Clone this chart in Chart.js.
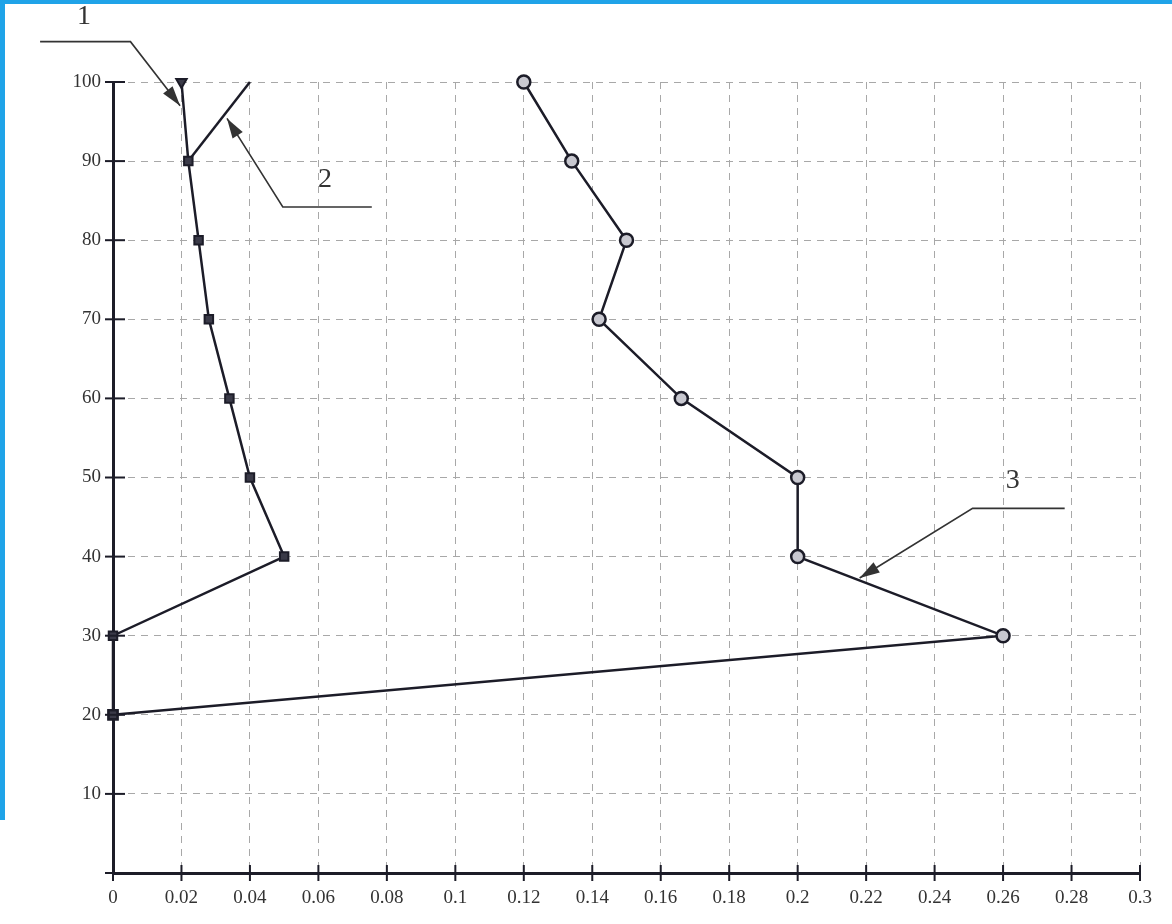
<!DOCTYPE html>
<html>
<head>
<meta charset="utf-8">
<script src="https://cdn.jsdelivr.net/npm/chart.js@4/dist/chart.umd.min.js"></script>
<style>
  html, body { margin: 0; padding: 0; background: #fff; }
  #wrap { position: relative; width: 1172px; height: 924px; }
  #topBar { position: absolute; left: 0; top: 0; width: 1172px; height: 4px; background: #1fa3e8; }
  #leftBar { position: absolute; left: 0; top: 0; width: 5px; height: 820px; background: #1fa3e8; }
</style>
</head>
<body>
<div id="wrap">
  <canvas id="chart" width="1172" height="924"></canvas>
  <div id="topBar"></div>
  <div id="leftBar"></div>
</div>
<script>
// depth levels (y axis)
const depths1 = [100, 90, 80, 70, 60, 50, 40, 30, 20];
const values1 = [0.02, 0.022, 0.025, 0.028, 0.034, 0.04, 0.05, 0, 0];

const depths2 = [100, 90];
const values2 = [0.04, 0.022];

const depths3 = [100, 90, 80, 70, 60, 50, 40, 30, 20];
const values3 = [0.12, 0.134, 0.15, 0.142, 0.166, 0.2, 0.2, 0.26, 0];

const xTickLabels = ['0', '0.02', '0.04', '0.06', '0.08', '0.1', '0.12', '0.14', '0.16',
                     '0.18', '0.2', '0.22', '0.24', '0.26', '0.28', '0.3'];
const yTickLabels = ['', '10', '20', '30', '40', '50', '60', '70', '80', '90', '100'];

// curve labels with leader lines: text pos, leader start, leader bend, arrow tip (data units)
const callouts = [
    { text: '1', tx: -0.0085, ty: 108.3, x0: -0.0213, y0: 105.1, x1: 0.0051, y1: 105.1, x2: 0.0196, y2: 97.0 },
    { text: '2', tx: 0.0619, ty: 87.6, x0: 0.0756, y0: 84.2, x1: 0.0496, y1: 84.2, x2: 0.0333, y2: 95.4 },
    { text: '3', tx: 0.2628, ty: 49.6, x0: 0.2780, y0: 46.1, x1: 0.2511, y1: 46.1, x2: 0.2181, y2: 37.3 }
];

const ink = '#1c1c28';

function toPoints(xs, ys) {
    return xs.map((v, i) => ({ x: v, y: ys[i] }));
}

const calloutPlugin = {
    id: 'callouts',
    afterDraw(chart) {
        const ctx = chart.ctx;
        const xs = chart.scales.x;
        const ys = chart.scales.y;
        ctx.save();
        ctx.strokeStyle = '#333';
        ctx.fillStyle = '#333';
        ctx.lineWidth = 1.6;
        callouts.forEach(c => {
            const p0 = [xs.getPixelForValue(c.x0), ys.getPixelForValue(c.y0)];
            const p1 = [xs.getPixelForValue(c.x1), ys.getPixelForValue(c.y1)];
            const p2 = [xs.getPixelForValue(c.x2), ys.getPixelForValue(c.y2)];
            ctx.beginPath();
            ctx.moveTo(p0[0], p0[1]);
            ctx.lineTo(p1[0], p1[1]);
            ctx.lineTo(p2[0], p2[1]);
            ctx.stroke();
            // arrow head
            const ang = Math.atan2(p2[1] - p1[1], p2[0] - p1[0]);
            const len = 20, half = 6;
            ctx.beginPath();
            ctx.moveTo(p2[0], p2[1]);
            ctx.lineTo(p2[0] - len * Math.cos(ang) + half * Math.sin(ang),
                       p2[1] - len * Math.sin(ang) - half * Math.cos(ang));
            ctx.lineTo(p2[0] - len * Math.cos(ang) - half * Math.sin(ang),
                       p2[1] - len * Math.sin(ang) + half * Math.cos(ang));
            ctx.closePath();
            ctx.fill();
            ctx.font = '28px "Liberation Serif", serif';
            ctx.textAlign = 'center';
            ctx.textBaseline = 'middle';
            ctx.fillText(c.text, xs.getPixelForValue(c.tx), ys.getPixelForValue(c.ty));
        });
        ctx.restore();
    }
};

// small tick marks that cross the axis lines
const crossTicks = {
    id: 'crossTicks',
    afterDraw(chart) {
        const ctx = chart.ctx;
        const xs = chart.scales.x;
        const ys = chart.scales.y;
        const area = chart.chartArea;
        ctx.save();
        ctx.strokeStyle = ink;
        ctx.lineWidth = 2;
        ctx.setLineDash([]);
        xs.ticks.forEach(t => {
            const px = xs.getPixelForValue(t.value);
            ctx.beginPath();
            ctx.moveTo(px, area.bottom - 8);
            ctx.lineTo(px, area.bottom + 8);
            ctx.stroke();
        });
        ys.ticks.forEach(t => {
            const py = ys.getPixelForValue(t.value);
            ctx.beginPath();
            ctx.moveTo(area.left - 8, py);
            ctx.lineTo(area.left + 12, py);
            ctx.stroke();
        });
        ctx.restore();
    }
};

const ctx = document.getElementById('chart').getContext('2d');
const chart = new Chart(ctx, {
    type: 'scatter',
    data: {
        datasets: [
            {
                label: '1',
                data: toPoints(values1, depths1),
                showLine: true,
                borderColor: ink,
                borderWidth: 2.5,
                backgroundColor: '#3a3a48',
                pointBorderColor: ink,
                pointBorderWidth: 2,
                pointStyle: ['triangle', 'rect', 'rect', 'rect', 'rect', 'rect', 'rect', 'rect', 'rect'],
                pointRotation: [180, 0, 0, 0, 0, 0, 0, 0, 0],
                pointRadius: 6
            },
            {
                label: '2',
                data: toPoints(values2, depths2),
                showLine: true,
                borderColor: ink,
                borderWidth: 2.5,
                pointRadius: 0
            },
            {
                label: '3',
                data: toPoints(values3, depths3),
                showLine: true,
                borderColor: ink,
                borderWidth: 2.5,
                backgroundColor: '#c8c8d0',
                pointBorderColor: ink,
                pointBorderWidth: 2.5,
                pointStyle: ['circle', 'circle', 'circle', 'circle', 'circle', 'circle', 'circle', 'circle', 'rect'],
                pointRadius: 6.5
            }
        ]
    },
    options: {
        responsive: false,
        animation: false,
        clip: false,
        layout: { padding: { left: 0, top: 82, right: 32, bottom: 0 } },
        plugins: {
            legend: { display: false },
            tooltip: { enabled: false }
        },
        scales: {
            x: {
                type: 'linear',
                min: 0,
                max: 0.3,
                ticks: {
                    stepSize: 0.02,
                    color: '#333',
                    font: { family: '"Liberation Serif", serif', size: 19 },
                    padding: 14,
                    callback: (v, i) => xTickLabels[i]
                },
                grid: {
                    color: '#a8a8a8',
                    lineWidth: 1,
                    drawTicks: false
                },
                // in v4 border.dash styles the grid lines
                border: { display: true, color: ink, width: 3, dash: [7, 6] },
                afterFit: s => { s.height = 51; }
            },
            y: {
                type: 'linear',
                min: 0,
                max: 100,
                ticks: {
                    stepSize: 10,
                    color: '#333',
                    font: { family: '"Liberation Serif", serif', size: 19 },
                    padding: 12,
                    callback: (v, i) => yTickLabels[i]
                },
                grid: {
                    color: '#a8a8a8',
                    lineWidth: 1,
                    drawTicks: false
                },
                border: { display: true, color: ink, width: 3, dash: [7, 6] },
                afterFit: s => { s.width = 113; }
            }
        }
    },
    plugins: [calloutPlugin, crossTicks]
});
</script>
</body>
</html>
